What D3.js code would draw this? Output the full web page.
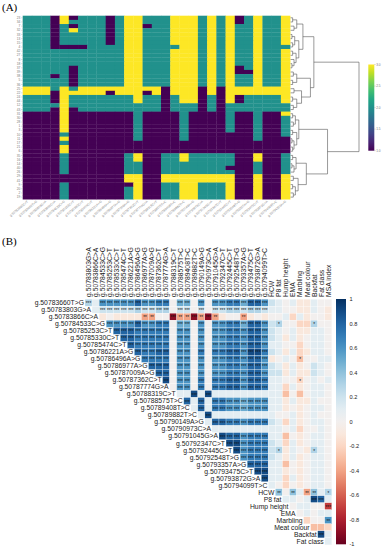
<!DOCTYPE html>
<html><head><meta charset="utf-8">
<script src="https://cdn.jsdelivr.net/npm/d3@7"></script>
<style>body{margin:0;background:#fff}svg{display:block}</style>
</head><body>
<svg id="c" width="384" height="550"></svg>
<script>
// ---------------- DATA ----------------
// Panel A
const heatRowLabels = [23,34,7,32,33,13,15,4,42,27,8,18,37,39,38,5,36,25,22,24,44,12,43,31,30,28,1,3,10,11,17,21,6,35,16,14,40,26,29,41,9,20,2,19];
const heatColLabels = ["g.50782990C>T","g.50783660T>G","g.50783803G>A","g.50783866C>A","g.50784533C>G","g.50785253C>T","g.50785330C>T","g.50785474C>T","g.50786221A>G","g.50786496A>G","g.50786977A>G","g.50787009A>G","g.50787362C>T","g.50787774G>A","g.50788319C>T","g.50788575T>C","g.50789408T>C","g.50789882T>C","g.50790149A>G","g.50790973C>A","g.50791045G>A","g.50792347C>T","g.50792445C>T","g.50792548T>G","g.50793357A>G","g.50793475C>T","g.50793872G>A","g.50794099T>C","g.50794350A>G"];
// genotype code per animal (row) and SNP (column): 1, 2, 3
const genotype = [
"22213122212332223332323123223",
"22213222212332223332323123223",
"22212122212331223332323223223",
"22212322212332223332323223223",
"22212222212332223332323223223",
"22212222212332223332323223223",
"22212222212332223332323223223",
"22211112222332222332323223222",
"22222222222332223332323223223",
"22222222222332223332323223223",
"22222222222332223332323223223",
"22222222222332223332323223223",
"22222122222332223332323123223",
"22222122222332223332323113223",
"22212122222332223332323223223",
"22222122222332223332323223223",
"22222122222332223332323223223",
"33323233333333313331313333333",
"33313333313331313331313333333",
"22213222222232212331213122223",
"22213222222232212331213122223",
"22223222222222212221212222222",
"22213122222222212221212222222",
"11113111111121111211112112113",
"11113111111121111211112112112",
"11113111111121111211112112112",
"11113111111121111211112112112",
"11113111111121111211112112112",
"11112111111121111211111112112",
"11113111111121111211111112111",
"11112111111111111111111111111",
"11113111111111111111111111111",
"11113111111111111111111111111",
"11112111111231122322222113112",
"11112111111231122322222113112",
"11112111111221122222222112112",
"11112111111221122222221112112",
"11112111111221122222222112112",
"11111111111331133333333113113",
"11111111111331133333333113113",
"11112111111131122332223113113",
"11112111111231122332223113113",
"11112111111231122332223113113",
"11112111111231122332223113113"];
// dendrogram: [height, left, right], leaves = row index
const dendroTree = [10,
  [3.4,
    [1.8, [0.9,[0.3,0,1],[0.5,2,3]], [1.2,[0.6,[0.2,4,5],[0.3,6,7]],[0.8,[0.3,8,9],[0.5,10,[0.2,11,12]]]]],
    [2.9, [0.9,[0.4,13,14],[0.3,15,16]], [1.6,[0.5,17,18],[0.9,[0.3,19,20],[0.4,21,22]]]]],
  [5.4,
    [1.2, [0.7,[0.3,23,24],[0.4,25,26]], [0.9,[0.3,27,28],[0.5,[0.2,29,30],[0.3,31,32]]]],
    [2.3, [0.8,[0.3,33,34],[0.5,[0.2,35,36],37]], [1.1,[0.4,38,39],[0.7,[0.3,40,41],[0.4,42,43]]]]]];
const heatTicks = [1.0,1.5,2.0,2.5,3.0];

// Panel B
const snpNames = ["g.50783660T>G","g.50783803G>A","g.50783866C>A","g.50784533C>G","g.50785253C>T","g.50785330C>T","g.50785474C>T","g.50786221A>G","g.50786496A>G","g.50786977A>G","g.50787009A>G","g.50787362C>T","g.50787774G>A","g.50788319C>T","g.50788575T>C","g.50789408T>C","g.50789882T>C","g.50790149A>G","g.50790973C>A","g.50791045G>A","g.50792347C>T","g.50792445C>T","g.50792548T>G","g.50793357A>G","g.50793475C>T","g.50793872G>A","g.50794099T>C"];
const traitNames = ["HCW","P8 fat","Hump height","EMA","Marbling","Meat colour","Backfat","Fat class","MSA index"];
// correlation x10, SNP-SNP part (row i, columns i+1..26)
const corrSNP = [
[3,1,6,6,6,6,6,8,6,6,7,7,0,5,5,0,6,0,6,6,7,7,5,8,8,6],
[1,2,2,2,2,2,3,2,2,3,3,0,2,2,0,2,0,2,2,3,3,2,3,3,2],
[-1,0,-1,-1,-1,-1,-4,-4,0,0,-9,-4,-4,-9,-4,-9,-4,-1,0,0,-4,-1,0,-1],
[6,6,6,6,8,6,6,7,7,0,5,5,0,6,0,6,6,7,7,5,8,8,6],
[8,8,8,7,7,7,7,7,0,6,6,0,6,0,6,6,7,7,6,8,8,6],
[8,8,7,7,7,7,7,0,6,6,0,6,0,6,6,7,7,6,8,8,6],
[8,7,7,7,7,7,0,6,6,0,6,0,6,6,7,7,6,8,8,6],
[8,7,7,8,8,0,6,6,0,7,0,7,7,8,8,6,9,9,7],
[7,7,7,7,0,6,6,0,6,0,6,6,7,7,6,8,8,6],
[8,8,8,0,6,6,0,6,0,6,6,7,7,6,8,8,6],
[8,8,0,6,6,0,6,0,6,6,7,7,6,8,8,6],
[9,0,6,6,0,7,0,7,7,8,8,6,8,8,7],
[0,6,6,0,7,0,7,7,8,8,6,8,8,7],
[1,1,9,1,9,1,1,1,1,1,1,1,1],
[8,1,8,1,7,7,6,6,5,6,6,6],
[1,8,1,7,7,6,6,5,6,6,6],
[1,9,1,1,1,1,1,1,1,1],
[1,8,8,7,7,6,7,7,7],
[1,1,1,1,1,1,1,1],
[9,8,8,6,7,7,7],
[9,9,6,7,7,7],
[9,6,7,7,7],
[6,7,7,7],
[8,8,8],
[9,9],
[9]];
const starSNP = [
"30333333333303303033333333","0333333333303303033333333","000000220032232320002000",
"33333333303303033333333","3333333303303033333333","333333303303033333333",
"33333303303033333333","3333303303033333333","333303303033333333","33303303033333333",
"3303303033333333","303303033333333","03303033333333","0030300000000","303033333333",
"03033333333","0300000000","033333333","00000000","3333333","333333","33333","3333","333","33","3"];
// correlation x10 with traits (row i, trait columns after i)
const corrTrait = [
[2,1,0,1,-1,-1,1,0,0],[1,1,0,0,-1,-1,1,0,-1],[0,0,1,-2,1,-1,0,0,-1],[2,3,0,0,-2,-2,3,0,0],
[2,1,0,1,-1,-1,1,1,0],[2,1,-1,1,-1,0,1,1,0],[1,1,0,0,-2,0,1,1,0],[2,1,-1,1,-2,-1,1,1,0],
[-1,0,1,0,-3,0,0,1,1],[2,1,-1,1,-1,0,2,1,0],[2,2,-1,1,-1,-1,2,1,0],[1,1,0,0,-2,0,1,0,1],
[1,1,-2,1,-1,0,1,1,0],[1,1,-3,0,-3,0,1,1,0],[1,1,-1,1,-1,-1,1,0,0],[1,1,-1,0,-1,0,1,1,0],
[1,0,0,1,-1,0,1,0,0],[2,1,-2,1,-1,0,1,1,0],[1,1,0,1,-2,0,0,1,0],[1,1,-3,0,-1,0,1,1,0],
[2,1,-2,1,-1,0,1,1,0],[2,3,-1,1,0,-1,3,1,0],[2,1,-1,1,-1,0,1,1,0],[1,1,-3,0,-1,0,1,1,0],
[1,1,-1,0,-1,0,1,1,0],[1,1,-2,1,-1,0,1,1,0],[1,0,-2,0,-1,0,1,1,0],
[4,0,4,1,-4,4,1,3],[1,1,0,1,9,8,1],[0,1,1,0,0,-7],[0,1,0,1,1],[-2,0,0,6],[-3,-3,-2],[9,1],[1]];
const starTrait = [
"000000000","000000000","000000000","010000100","000000000","000000000","000000000","000000000",
"000010000","000000000","000000000","000010000","000000000","000000000","000000000","000000000",
"000000000","000000000","000000000","000000000","000000000","010000100","000000000","000000000",
"000000000","000000000","000000000",
"20202201","0000330","000003","00000","0002","000","30","0"];
const corrTicks = [1,0.8,0.6,0.4,0.2,0,-0.2,-0.4,-0.6,-0.8,-1];

// ---------------- DRAW ----------------
const svg = d3.select("#c");
const SANS = "'Liberation Sans', Arial, sans-serif";
const defs = svg.append("defs");

svg.append("text").attr("x",2).attr("y",11).attr("font-family","'Liberation Serif', 'Times New Roman', serif").attr("font-size",11).text("(A)");
svg.append("text").attr("x",2).attr("y",245).attr("font-family","'Liberation Serif', 'Times New Roman', serif").attr("font-size",11).text("(B)");

// ---- Panel A heatmap
const gA = svg.append("g");
const hx = d3.scaleBand().domain(d3.range(heatColLabels.length)).range([22.7, 290.1]);
const hy = d3.scaleBand().domain(d3.range(heatRowLabels.length)).range([15.7, 199.2]);
const vir = d3.scaleSequential(d3.interpolateViridis).domain([1,3]);
const hcells = [];
genotype.forEach((s,r)=>{ for(let c=0;c<s.length;c++) hcells.push({r,c,v:+s[c]}); });
gA.selectAll("rect.h").data(hcells).join("rect")
  .attr("x",d=>hx(d.c)).attr("y",d=>hy(d.r))
  .attr("width",hx.bandwidth()+0.3).attr("height",hy.bandwidth()+0.3)
  .attr("fill",d=>vir(d.v));
gA.selectAll("text.yl").data(heatRowLabels).join("text")
  .attr("x",20.3).attr("y",(d,i)=>hy(i)+hy.bandwidth()/2+1.1)
  .attr("text-anchor","end").attr("font-family",SANS).attr("font-size",3.2).attr("fill","#777").text(d=>d);
gA.selectAll("line.yt").data(heatRowLabels).join("line")
  .attr("x1",21).attr("x2",22.7).attr("y1",(d,i)=>hy(i)+hy.bandwidth()/2).attr("y2",(d,i)=>hy(i)+hy.bandwidth()/2)
  .attr("stroke","#999").attr("stroke-width",0.3);
gA.selectAll("text.xl").data(heatColLabels).join("text")
  .attr("transform",(d,i)=>`translate(${hx(i)+hx.bandwidth()/2+1},${202})rotate(-40)`)
  .attr("text-anchor","end").attr("font-family",SANS).attr("font-size",3.2).attr("fill","#888").text(d=>d);
const dxs = d3.scaleLinear().domain([0,10]).range([290.6, 359]);
const dpaths = [];
function lay(node){
  if (typeof node === "number") return {y: hy(node)+hy.bandwidth()/2, h:0};
  const [h,a,b] = node; const A = lay(a), B = lay(b);
  dpaths.push(`M${dxs(A.h)},${A.y}H${dxs(h)}V${B.y}H${dxs(B.h)}`);
  return {y:(A.y+B.y)/2, h};
}
lay(dendroTree);
gA.selectAll("path.dn").data(dpaths).join("path").attr("d",d=>d).attr("fill","none").attr("stroke","#555").attr("stroke-width",0.6);
const gradA = defs.append("linearGradient").attr("id","gA").attr("x1",0).attr("y1",1).attr("x2",0).attr("y2",0);
d3.range(0,1.001,0.1).forEach(t=>gradA.append("stop").attr("offset",t).attr("stop-color",vir(1+2*t)));
const cbA = d3.scaleLinear().domain([1,3]).range([150.7,64.5]);
gA.append("rect").attr("x",368.3).attr("y",cbA(3)).attr("width",6).attr("height",cbA(1)-cbA(3)).attr("fill","url(#gA)");
gA.selectAll("line.ct").data(heatTicks).join("line").attr("x1",374.3).attr("x2",375.6)
  .attr("y1",d=>cbA(d)).attr("y2",d=>cbA(d)).attr("stroke","#777").attr("stroke-width",0.3);
gA.selectAll("text.ct").data(heatTicks).join("text").attr("x",376.2).attr("y",d=>cbA(d)+1.1)
  .attr("font-family",SANS).attr("font-size",3.2).attr("fill","#777").text(d=>d.toFixed(1));

// ---- Panel B correlation plot
const gB = svg.append("g");
const allNames = snpNames.concat(traitNames);
const nR = allNames.length - 1;
const bx = d3.scaleBand().domain(d3.range(1, allNames.length)).range([85, 331.8]);
const by = d3.scaleBand().domain(d3.range(0, nR)).range([299.2, 544.9]);
const rdbu = v => d3.interpolateRdBu((v+1)/2);
const bcells = [];
for (let i=0;i<nR;i++){
  const vals = (i < corrSNP.length ? corrSNP[i] : []).concat(corrTrait[i]);
  const st = (i < starSNP.length ? starSNP[i] : "") + starTrait[i];
  vals.forEach((v,k)=>bcells.push({i, j:i+1+k, v:v/10, s:+st[k]}));
}
gB.selectAll("rect.b").data(bcells).join("rect")
  .attr("x",d=>bx(d.j)).attr("y",d=>by(d.i)).attr("width",bx.bandwidth()).attr("height",by.bandwidth())
  .attr("fill",d=>rdbu(d.v)).attr("stroke","#fff").attr("stroke-width",0.25);
gB.selectAll("text.st").data(bcells.filter(d=>d.s>0)).join("text")
  .attr("x",d=>bx(d.j)+bx.bandwidth()/2).attr("y",d=>by(d.i)+by.bandwidth()/2+2.6)
  .attr("text-anchor","middle").attr("font-family",SANS).attr("font-size",4.6).attr("fill","#111")
  .text(d=>"*".repeat(d.s));
gB.selectAll("text.rl").data(allNames.slice(0,nR)).join("text")
  .attr("x",(d,i)=>bx(i+1)-1).attr("y",(d,i)=>by(i)+by.bandwidth()/2+2.4)
  .attr("text-anchor","end").attr("font-family",SANS).attr("font-size",6.8).attr("fill","#222").text(d=>d);
gB.selectAll("text.cl").data(allNames.slice(1)).join("text")
  .attr("transform",(d,k)=>`translate(${bx(k+1)+bx.bandwidth()/2+2.4},297)rotate(-90)`)
  .attr("text-anchor","start").attr("font-family",SANS).attr("font-size",6.8).attr("fill","#222").text(d=>d);
const gradB = defs.append("linearGradient").attr("id","gB").attr("x1",0).attr("y1",1).attr("x2",0).attr("y2",0);
d3.range(0,1.001,0.05).forEach(t=>gradB.append("stop").attr("offset",t).attr("stop-color",rdbu(-1+2*t)));
const cbB = d3.scaleLinear().domain([-1,1]).range([544.3,299]);
gB.append("rect").attr("x",336).attr("y",cbB(1)).attr("width",10).attr("height",cbB(-1)-cbB(1)).attr("fill","url(#gB)");
gB.selectAll("text.cb").data(corrTicks).join("text").attr("x",349.5).attr("y",d=>cbB(d)+2)
  .attr("font-family",SANS).attr("font-size",5.6).attr("fill","#222").text(d=>d);
</script>
</body></html>
